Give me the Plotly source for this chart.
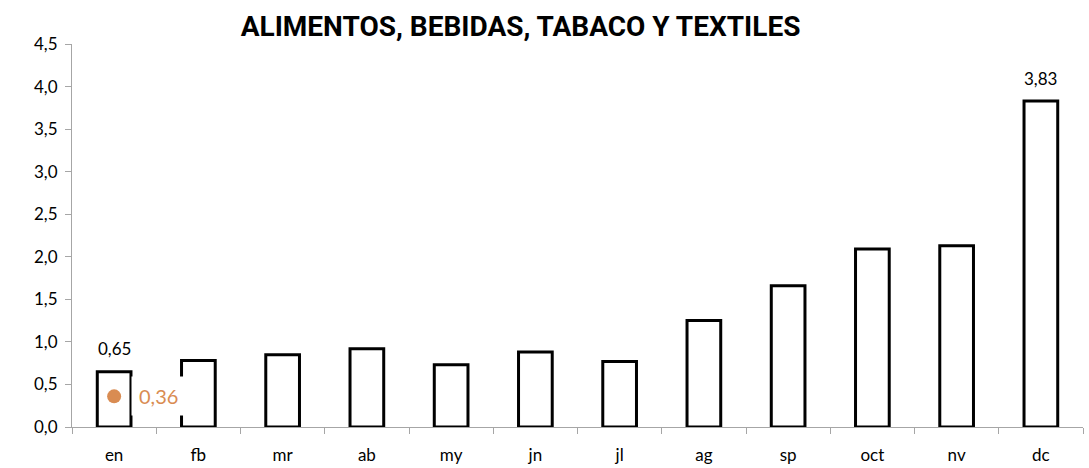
import plotly.graph_objects as go

months = ['en', 'fb', 'mr', 'ab', 'my', 'jn', 'jl', 'ag', 'sp', 'oct', 'nv', 'dc']
values = [0.65, 0.78, 0.85, 0.92, 0.73, 0.88, 0.77, 1.25, 1.66, 2.09, 2.13, 3.83]
bar_labels = ['0,65', '', '', '', '', '', '', '', '', '', '', '3,83']
point_month = ['en']
point_value = [0.36]
point_label = '0,36'

orange = '#D98C52'

fig = go.Figure()

fig.add_trace(go.Bar(
    x=months,
    y=values,
    marker=dict(color='white', line=dict(color='black', width=3)),
    hoverinfo='skip'
))

fig.add_trace(go.Scatter(
    x=point_month,
    y=point_value,
    mode='markers',
    marker=dict(color=orange, size=14),
    hoverinfo='skip'
))

# value labels above the first and last bar
for m, v, lab in zip(months, values, bar_labels):
    if lab:
        fig.add_annotation(x=m, y=v, text=lab, showarrow=False, yshift=23,
                           font=dict(size=17, color='black'))

fig.add_annotation(
    x=point_month[0],
    y=point_value[0],
    text=point_label,
    showarrow=False,
    xshift=44,
    font=dict(size=20, color=orange),
    bgcolor='white',
    borderpad=7
)

fig.update_layout(
    title=dict(
        text='<b>ALIMENTOS, BEBIDAS, TABACO Y TEXTILES</b>',
        x=0.478, xanchor='center', y=0.945, yanchor='middle',
        font=dict(family='Liberation Sans Narrow, Arial Narrow, Roboto', size=28, color='black')
    ),
    width=1089,
    height=468,
    margin=dict(l=72, r=6, t=44, b=41),
    paper_bgcolor='white',
    plot_bgcolor='white',
    showlegend=False,
    bargap=0.6,
    separators=', ',
    font=dict(family='Lato, Open Sans, sans-serif', size=17, color='black')
)

fig.update_xaxes(
    automargin=False,
    range=[-0.5, len(months) - 0.5],
    showgrid=False,
    showline=True,
    linecolor='#A6A6A6',
    linewidth=1,
    ticks='outside',
    tickson='boundaries',
    ticklen=6,
    tickcolor='#A6A6A6',
    ticklabelstandoff=13,
    tickfont=dict(size=17)
)
fig.update_yaxes(
    automargin=False,
    range=[0, 4.5],
    dtick=0.5,
    tickformat='.1f',
    showgrid=False,
    zeroline=False,
    showline=True,
    linecolor='#A6A6A6',
    linewidth=1,
    ticks='outside',
    ticklen=6,
    tickcolor='#A6A6A6',
    ticklabelstandoff=4,
    tickfont=dict(size=17)
)

fig.write_html('out.html', config={'displayModeBar': False},
               post_script="document.body.style.margin='0';")
